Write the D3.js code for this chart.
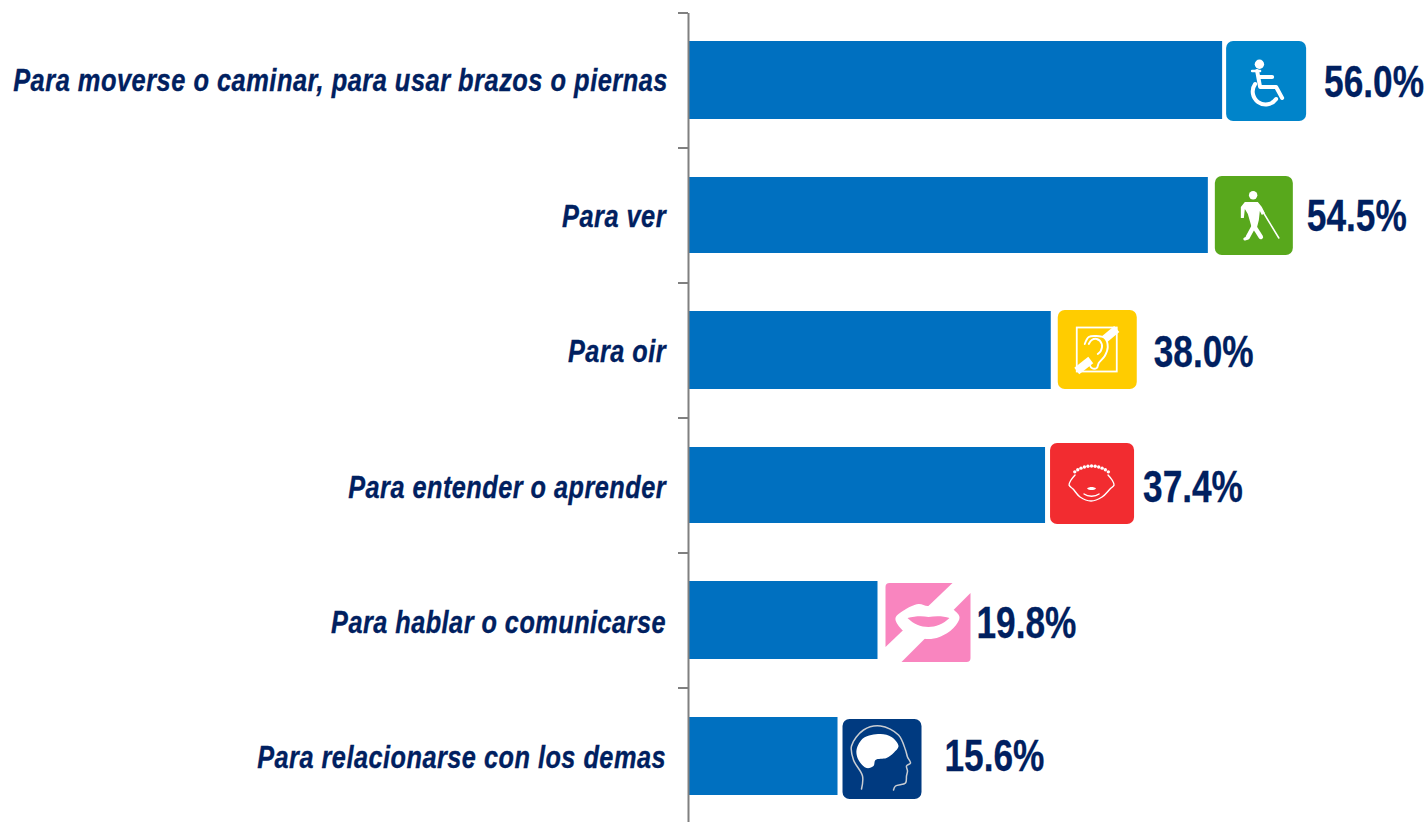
<!DOCTYPE html>
<html><head><meta charset="utf-8">
<script src="https://cdn.jsdelivr.net/npm/d3@7/dist/d3.min.js"></script>
<style>html,body{margin:0;padding:0;background:#fff;overflow:hidden}svg{display:block}</style>
</head><body><svg id="c" width="1428" height="822"></svg>
<script>
const categories = ["Para moverse o caminar, para usar brazos o piernas","Para ver","Para oir","Para entender o aprender","Para hablar o comunicarse","Para relacionarse con los demas"];
const values = [56.0,54.5,38.0,37.4,19.8,15.6];
const valueLabels = ["56.0%","54.5%","38.0%","37.4%","19.8%","15.6%"];
const iconNames = ["wheel","blind","ear","face","lips","head"];
const iconFills = ["#0084CA","#58A81C","#FFCC00","#F22C30","#F985BF","#003A80"];
// layout tweaks
const iconGaps = [4,7,7,5,8,5];
const iconWidths = [80,78,79,84,86,79];
const iconHeights = [80,79,79,81,81,80];
const iconTopOffsets = [0,0,-1,-3,0,3];
const valueGaps = [102,99,103,98,99,107];
const valueBaselines = [17,16,17,17,18,16];
const labelEnds = [668,666,666,666,666,666];
const labelWidths = [655,104,98,318,335,409];
const labelBaselines = [11,12,12,13,13,13];
const barTopInsets = [0,1,0,1,0,1];
const barBottomInsets = [0,1,0,1,0,-1];

const svg = d3.select("#c");
const x = d3.scaleLinear().domain([0,100]).range([689,1641]);
const y = d3.scaleBand().domain(categories).range([12.5,822.5]).paddingInner(57/135).paddingOuter(28.5/135);
const tickIdx = d3.scaleLinear().domain([0,6]).range([12.5,822.5]);
const mid = i => y(categories[i]) + y.bandwidth()/2;

svg.append("g").selectAll("rect").data(values).join("rect")
  .attr("x",x(0)).attr("y",(d,i)=>y(categories[i])+barTopInsets[i])
  .attr("width",d=>x(d)-x(0)).attr("height",(d,i)=>y.bandwidth()-barTopInsets[i]-barBottomInsets[i]).attr("fill","#0070C0");

const ax = svg.append("g").attr("transform","translate(688,0)")
  .call(d3.axisLeft(tickIdx).tickValues(d3.range(7)).tickSize(10).tickSizeOuter(0).tickFormat(""));
ax.selectAll("path,line").attr("stroke","#808080").attr("stroke-width",2);

const labels = svg.append("g").selectAll("text").data(categories).join("text")
  .attr("text-anchor","end").attr("fill","#002060").attr("stroke","#002060").attr("stroke-width",0.35)
  .attr("font-family","'Liberation Sans',Arial,sans-serif").attr("font-weight",700).attr("font-style","italic")
  .attr("font-size",31).attr("letter-spacing",0.6)
  .text(d=>d);
labels.attr("transform",function(d,i){
  const s = labelWidths[i] / this.getComputedTextLength();
  return `translate(${labelEnds[i]},${mid(i)+labelBaselines[i]}) scale(${s},1)`;
});

svg.append("g").selectAll("text").data(valueLabels).join("text")
  .attr("transform",(d,i)=>`translate(${x(values[i])+valueGaps[i]},${mid(i)+valueBaselines[i]}) scale(0.81,1)`)
  .attr("fill","#002060").attr("stroke","#002060").attr("stroke-width",0.3)
  .attr("font-family","'Liberation Sans',Arial,sans-serif").attr("font-weight",700)
  .attr("font-size",43.5)
  .text(d=>d);

const W="#fff";
const smooth = d3.line().curve(d3.curveCatmullRom.alpha(0.5));
const smoothClosed = d3.line().curve(d3.curveCatmullRomClosed.alpha(0.5));
function glyph(g,name){
  const line=(d,w,c)=>g.append("path").attr("d",d).attr("fill","none").attr("stroke",c||W).attr("stroke-width",w).attr("stroke-linecap","round").attr("stroke-linejoin","round");
  const fill=(d,c)=>g.append("path").attr("d",d).attr("fill",c||W);
  const dot=(cx,cy,r,c)=>g.append("circle").attr("cx",cx).attr("cy",cy).attr("r",r).attr("fill",c||W);
  if(name==="wheel"){
    dot(33.3,23.3,4.7);
    line("M26,30H34",2.4);
    line("M31,30L34,46H50L56,57",4);
    line("M34,36H46",4);
    line("M29,43A12.5,12.5 0 1 0 50,58",4);
  } else if(name==="blind"){
    dot(38.3,19.3,4.2);
    fill("M30,26H43L47,31L50,37L47,39L45,35L44,44L42,52L37,52L33,38L30,33L29,42H26L26,31Z");
    line("M39,50L33,61",4.5);
    line("M39,50L46,61",4.5);
    line("M33,62L30,63",3);
    line("M47,34L64,62",1.5);
  } else if(name==="ear"){
    g.append("rect").attr("x",19).attr("y",17.5).attr("width",40).attr("height",44).attr("fill","none").attr("stroke",W).attr("stroke-width",1.8);
    line("M59,19L47,29",8).attr("stroke-linecap","butt");
    line("M33,50L19,61",8).attr("stroke-linecap","butt");
    line(smooth([[27,34],[31,27],[38,26],[47,28],[50,37],[47,46],[41,53],[39,58],[34,58],[32,55]]),1.9);
    line(smooth([[31,34],[34,30],[39,29],[44,34],[43,41],[40,44]]),1.9);
  } else if(name==="face"){
    d3.range(-5,6).forEach(k=>{const t=k*0.134;dot(41.5+27*Math.sin(t),50-27*Math.cos(t),1.7);});
    line(smooth([[25,32],[21,37],[19,42],[23,46],[30,54],[41,58],[52,54],[60,46],[64,42],[62,37],[58,32]]),1.4);
    fill("M37,45.5C39,43.5 44,43.5 46,45.5C44,47.5 39,47.5 37,45.5Z");
    line("M34,51C38,54 45,54 49,51",1.4);
  } else if(name==="head"){
    line(smooth([[19,70],[20,57],[11,41],[9,27],[21,11],[38,7],[56,16],[63,31],[65,38],[68,44],[64,47],[65,52],[64,57],[63,64],[53,67],[51,71]]),1.5,"#C9CDD2");
    fill(smoothClosed([[38,15],[49,18],[56,27],[51,34],[44,39],[33,41],[31,47],[24,49],[16,41],[14,31],[21,19]]));
  }
}
const icons = svg.append("g").selectAll("g").data(values).join("g")
  .attr("transform",(d,i)=>`translate(${x(d)+iconGaps[i]},${y(categories[i])+iconTopOffsets[i]})`);
icons.each(function(d,i){
  const g=d3.select(this), w=iconWidths[i], h=iconHeights[i];
  if(iconNames[i]==="lips"){
    g.append("path").attr("d","M4,2H67L0,66V6Q0,2 4,2Z").attr("fill",iconFills[i]);
    g.append("path").attr("d","M85,12V77Q85,81 81,81H16Z").attr("fill",iconFills[i]);
    g.append("path").attr("d",smoothClosed([[10,37],[19,29],[33,23],[43,25],[54,19],[66,27],[74,36],[68,47],[54,56],[41,58],[24,54],[14,46]])).attr("fill","#fff");
    g.append("path").attr("d","M22,37C30,35 37,35 43,36C50,35 58,35 64,37C58,43 50,46 43,46C35,46 28,43 22,37Z").attr("fill",iconFills[i]);
  } else {
    g.append("rect").attr("width",w).attr("height",h).attr("rx",7).attr("fill",iconFills[i]);
    glyph(g,iconNames[i]);
  }
});
</script></body></html>
